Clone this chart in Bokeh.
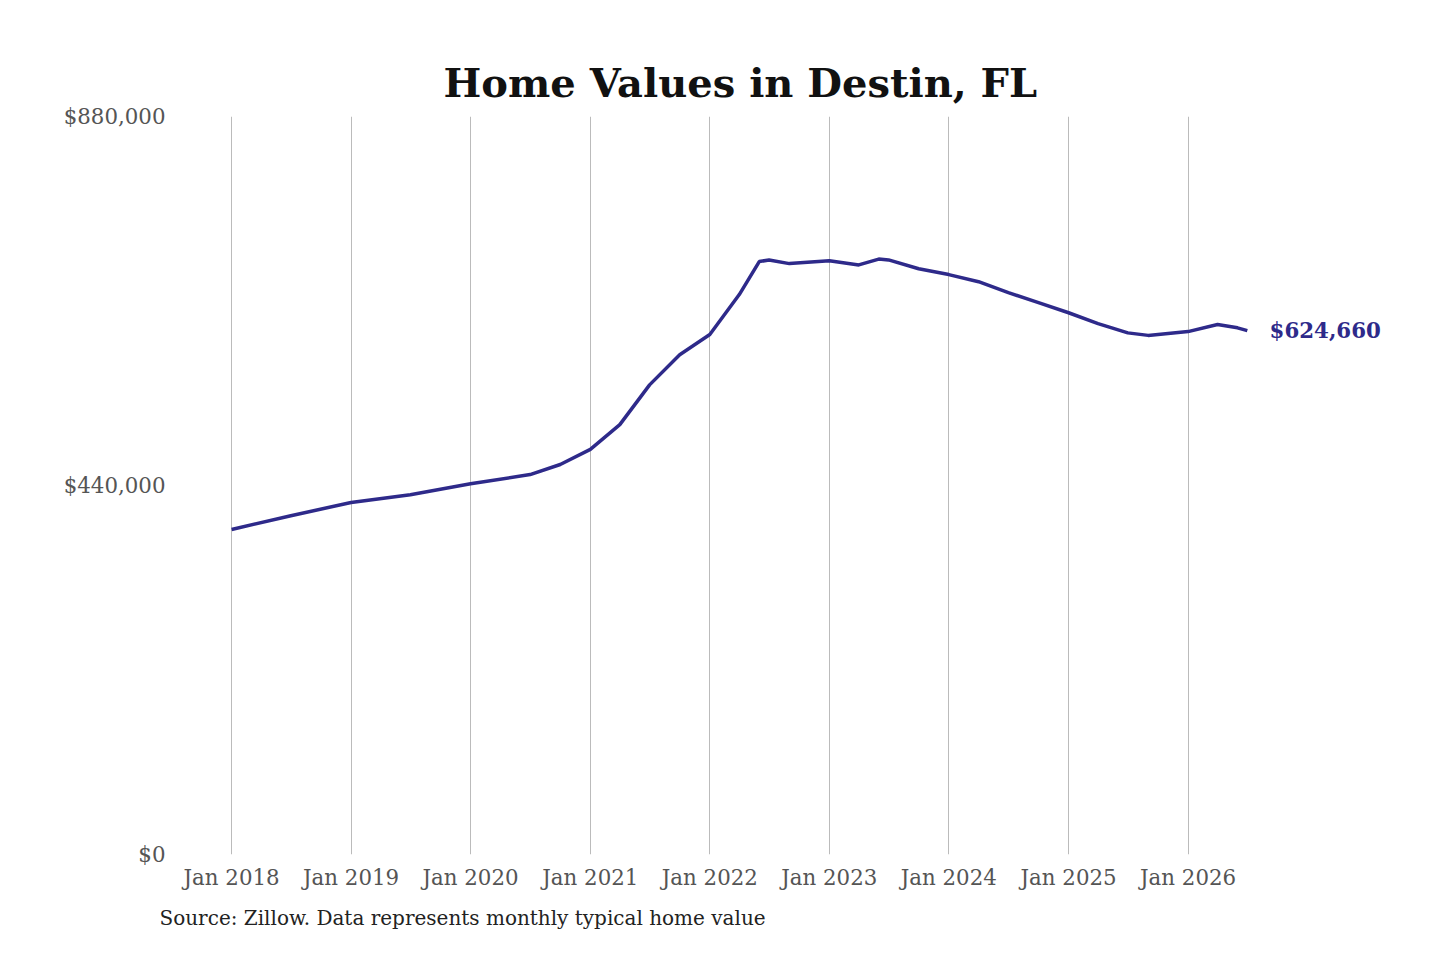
import datetime as dt
from bokeh.plotting import figure
from bokeh.models import FixedTicker, NumeralTickFormatter, Title, Label, Range1d
from bokeh.embed import file_html
from bokeh.resources import INLINE

# monthly typical home value (key months)
dates = ["2018-01", "2018-07", "2019-01", "2019-07", "2020-01", "2020-07", "2020-10",
         "2021-01", "2021-04", "2021-07", "2021-10", "2022-01", "2022-04", "2022-06",
         "2022-07", "2022-09", "2023-01", "2023-04", "2023-06", "2023-07", "2023-10",
         "2024-01", "2024-04", "2024-07", "2024-10", "2025-01", "2025-04", "2025-07",
         "2025-09", "2026-01", "2026-04", "2026-06", "2026-07"]
values = [387500, 404000, 419700, 429000, 442000, 453000, 465000,
          483000, 512600, 560000, 596000, 620000, 667700, 707000,
          709000, 704600, 708000, 703000, 710000, 709000, 698500,
          691500, 683000, 670000, 658000, 646000, 633000, 622000,
          619000, 623500, 632000, 628000, 624660]
tick_years = list(range(2018, 2027))
y_ticks = [0, 440000, 880000]

def ms(d):
    return dt.datetime(d.year, d.month, d.day).timestamp() * 1000

xs = [dt.datetime.strptime(d, "%Y-%m") for d in dates]
line_color = "#2e2a8a"
font = "DejaVu Serif"

p = figure(width=1424, height=944, x_axis_type="datetime",
           x_range=Range1d(ms(dt.datetime(2017, 8, 1)), ms(dt.datetime(2027, 10, 15))),
           y_range=Range1d(0, 880000),
           output_backend="svg", toolbar_location=None,
           min_border_left=181, min_border_right=23, min_border_top=116, min_border_bottom=90)
p.outline_line_color = None
p.background_fill_color = "white"

p.line(xs, values, line_width=3.5, color=line_color)

last = values[-1]
p.add_layout(Label(x=ms(xs[-1]) + 68 * 86400000, y=last, text="${:,}".format(last),
                   text_font=font, text_font_style="bold", text_font_size="16pt",
                   text_color=line_color, text_baseline="middle"))

p.title.text = "Home Values in Destin, FL"
p.title.align = "left"
p.title.offset = 262
p.title.standoff = 22
p.title.text_font = font
p.title.text_font_size = "30pt"
p.title.text_color = "#111111"

p.add_layout(Title(text="Source: Zillow. Data represents monthly typical home value",
                   text_font=font, text_font_size="15pt", text_font_style="normal",
                   text_color="#222222", offset=-22, standoff=22), "below")

ticks = [ms(dt.datetime(y, 1, 1)) for y in tick_years]
p.xaxis.ticker = FixedTicker(ticks=ticks)
p.xaxis.major_label_overrides = {t: "Jan %d" % y for t, y in zip(ticks, tick_years)}
p.yaxis.ticker = FixedTicker(ticks=y_ticks)
p.yaxis.formatter = NumeralTickFormatter(format="$0,0")

for ax in (p.xaxis, p.yaxis):
    ax.axis_line_color = None
    ax.major_tick_line_color = None
    ax.minor_tick_line_color = None
    ax.major_label_text_font = font
    ax.major_label_text_font_size = "16pt"
    ax.major_label_text_color = "#555555"
p.xaxis.major_label_standoff = 4
p.yaxis.major_label_standoff = 10

p.ygrid.grid_line_color = None
p.xgrid.grid_line_color = "#bbbbbb"
p.xgrid.grid_line_width = 1

open("out.html", "w").write(file_html(p, INLINE))
